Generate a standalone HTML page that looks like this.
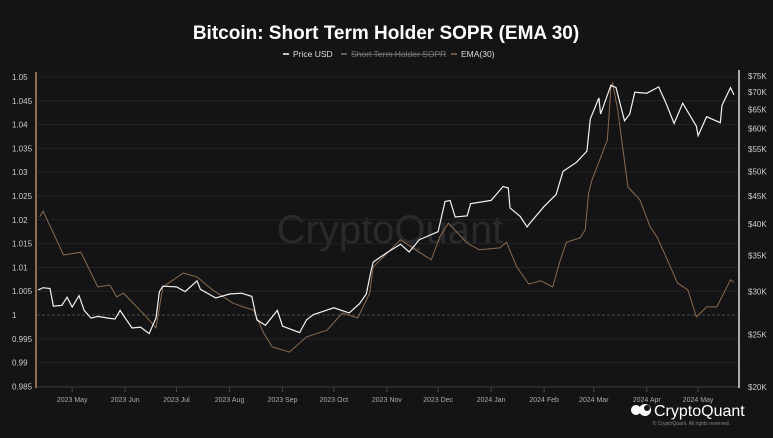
<!DOCTYPE html>
<html><head><meta charset="utf-8"><style>
html,body{margin:0;padding:0;background:#141416;}
body{width:773px;height:433px;overflow:hidden;font-family:"Liberation Sans",sans-serif;}
</style></head><body>
<svg id="chart" width="773" height="433" viewBox="0 0 773 433" xmlns="http://www.w3.org/2000/svg">
<rect width="773" height="433" fill="#141416"/>
<text x="386" y="39" text-anchor="middle" fill="#fff" font-size="19" font-weight="bold">Bitcoin: Short Term Holder SOPR (EMA 30)</text>
<g font-size="8.5" fill="#ddd">
 <g><line x1="283" y1="54" x2="289" y2="54" stroke="#fff" stroke-width="1.5"/><text x="293" y="57">Price USD</text></g>
 <g><line x1="341" y1="54" x2="347" y2="54" stroke="#777" stroke-width="1.5"/><text x="351" y="57" fill="#777" text-decoration="line-through">Short Term Holder SOPR</text></g>
 <g><line x1="451" y1="54" x2="457" y2="54" stroke="#8a6a50" stroke-width="1.5"/><text x="461" y="57">EMA(30)</text></g>
</g>
<text x="390" y="243" text-anchor="middle" fill="#2a2a2d" font-size="40">CryptoQuant</text>
<g id="grid"></g><g id="axes"></g><g id="series"></g>
<g>
 <circle cx="636" cy="410" r="5" fill="#fff"/><circle cx="645" cy="410" r="6" fill="#fff"/><circle cx="647" cy="408" r="3" fill="#141416"/>
 <text x="654" y="416" fill="#fff" font-size="16">CryptoQuant</text>
 <text x="730" y="425" text-anchor="end" fill="#888" font-size="5">© CryptoQuant. All rights reserved.</text>
</g>
</svg>
<script>
const leftTicks=[0.985,0.99,0.995,1,1.005,1.01,1.015,1.02,1.025,1.03,1.035,1.04,1.045,1.05];
const rightTicks=[20,25,30,35,40,45,50,55,60,65,70,75];
const monthLabels=["2023 May","2023 Jun","2023 Jul","2023 Aug","2023 Sep","2023 Oct","2023 Nov","2023 Dec","2024 Jan","2024 Feb","2024 Mar","2024 Apr","2024 May"];
const monthDays=[20,51,81,112,143,173,204,234,265,296,325,356,386];
const priceDays=[0,3,7,9,14,17,20,24,27,31,35,41,45,48,51,55,60,65,69,71,73,81,86,93,95,104,112,119,125,128,133,140,143,153,157,161,173,182,188,192,195,196,204,212,217,223,234,238,241,244,251,253,265,272,275,276,282,286,287,296,303,307,315,321,323,328,329,335,338,343,346,349,356,363,367,372,377,385,386,391,399,400,405,407];
const priceK=[30.2,30.5,30.4,28.2,28.3,29.3,28.1,29.5,27.7,26.8,27.0,26.8,26.7,27.7,26.8,25.7,25.8,25.1,26.8,30.0,30.7,30.6,30.0,31.4,30.3,29.2,29.7,29.8,29.4,26.6,26.0,27.7,25.9,25.2,26.6,27.2,28.0,27.4,28.5,29.7,33.0,34.0,35.4,36.7,35.5,37.4,38.7,44.0,44.2,41.2,41.4,43.6,44.2,46.9,46.6,42.8,41.3,39.5,39.9,43.1,45.3,50.0,52.0,54.5,62.5,68.3,63.8,72.1,71.4,62.0,63.8,70.0,69.7,71.6,67.1,61.3,66.8,60.6,58.2,63.1,61.5,66.2,71.4,69.2];
const emaDays=[1,3,15,25,35,42,46,50,64,69,73,85,93,102,114,120,126,132,137,147,157,169,178,187,194,196,202,212,223,230,235,240,251,258,270,274,280,287,294,301,305,309,317,320,322,324,330,333,335,336,339,345,352,358,362,368,374,380,385,391,397,402,405,407];
const emaVals=[1.0206,1.0218,1.0126,1.0132,1.0059,1.0063,1.0038,1.0046,0.9994,0.9973,1.0059,1.0088,1.008,1.0053,1.0025,1.0017,1.001,0.9962,0.9933,0.9922,0.9954,0.9968,1.0004,0.9994,1.0046,1.0101,1.0122,1.0158,1.0132,1.0116,1.0164,1.0193,1.0151,1.0137,1.0141,1.0153,1.0101,1.0065,1.0072,1.0059,1.0110,1.0153,1.0162,1.0179,1.0256,1.0284,1.034,1.0368,1.0479,1.0487,1.0431,1.0269,1.0242,1.0185,1.0164,1.0116,1.0067,1.0053,0.9996,1.0017,1.0017,1.0053,1.0074,1.0069];
const NS="http://www.w3.org/2000/svg";
const X0=38,PXD=1.71,YL0=315,PXV=4760,YB=387,RH=311;
const xs=d=>X0+d*PXD;
const yl=v=>YL0-(v-1)*PXV;
const yr=p=>YB-RH*Math.log(p/20)/Math.log(75/20);
function mk(tag,attrs,parent){const e=document.createElementNS(NS,tag);for(const k in attrs)e.setAttribute(k,attrs[k]);parent.appendChild(e);return e;}
const grid=document.getElementById('grid'),axes=document.getElementById('axes'),series=document.getElementById('series');
leftTicks.forEach(v=>{
 const y=yl(v);
 const l=mk('line',{x1:37,x2:738,y1:y,y2:y,stroke:v===1?'#4a4a4e':'#232326','stroke-width':1,'stroke-dasharray':v===1?'3,2':'none'},grid);
 
 
 const t=mk('text',{x:12,y:y+3,fill:'#ccc','font-size':8},axes);t.textContent=String(v);
 
 
});
rightTicks.forEach(p=>{
 const t=mk('text',{x:748,y:yr(p)+3,fill:'#ccc','font-size':8},axes);t.textContent='$'+p+'K';
 
 
});
monthLabels.forEach((m,i)=>{
 const x=xs(monthDays[i]);
 const tk=mk('line',{x1:x,x2:x,y1:387,y2:392,stroke:'#444'},axes);
 
 
 const t=mk('text',{x:x,y:402,fill:'#aaa','font-size':7,'text-anchor':'middle'},axes);t.textContent=m;
 
 
});
const la=mk('line',{x1:36,x2:36,y1:72,y2:388,stroke:'#b8876a','stroke-width':1.5},axes);


const ra=mk('line',{x1:739,x2:739,y1:70,y2:388,stroke:'#ddd','stroke-width':1.5},axes);


const xa=mk('line',{x1:37,x2:738,y1:387,y2:387,stroke:'#333'},axes);


const ema=mk('polyline',{points:emaDays.map((d,i)=>xs(d).toFixed(1)+','+yl(emaVals[i]).toFixed(1)).join(' '),fill:'none',stroke:'#8a6a50','stroke-width':1},series);


const pr=mk('polyline',{points:priceDays.map((d,i)=>xs(d).toFixed(1)+','+yr(priceK[i]).toFixed(1)).join(' '),fill:'none',stroke:'#f2f2f2','stroke-width':1.2},series);


</script>
</body></html>
